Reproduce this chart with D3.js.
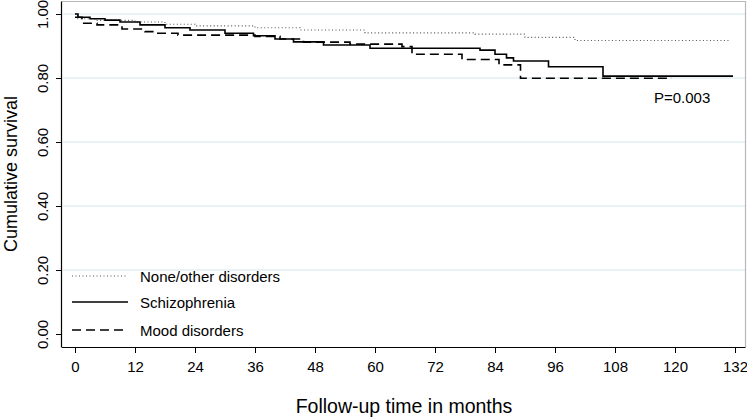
<!DOCTYPE html>
<html>
<head>
<meta charset="utf-8">
<script src="https://cdn.jsdelivr.net/npm/d3@7"></script>
<style>
  body { margin: 0; background: #fff; }
  svg { font-family: "Liberation Sans", Arial, sans-serif; }
</style>
</head>
<body>
<div class="chart"></div>
<script>
// step points [month, cumulative survival]
var noneOther = [[0,1.0],[0.5,0.985],[4,0.98],[12,0.975],[18,0.968],[24,0.963],[36,0.957],[45,0.95],[58,0.941],[80,0.937],[90,0.927],[100,0.917],[131,0.917]];
var schizophrenia = [[0,1.0],[0.6,0.99],[3,0.985],[6,0.981],[9,0.975],[13,0.966],[18,0.957],[23,0.95],[30,0.94],[35.7,0.932],[40,0.922],[43.7,0.913],[49.7,0.903],[59,0.893],[81,0.887],[84,0.874],[86.3,0.863],[87.7,0.853],[94.7,0.835],[105.6,0.806],[131.6,0.806]];
var mood = [[0,0.99],[1.4,0.971],[4.4,0.966],[9.4,0.953],[14,0.945],[16,0.94],[20.6,0.934],[36,0.93],[41,0.922],[45.7,0.912],[55,0.906],[65.4,0.898],[67.4,0.874],[77.4,0.858],[84.8,0.841],[89.1,0.799],[119.4,0.799]];

var xTicks = [0,12,24,36,48,60,72,84,96,108,120,132];
var yTicks = [0,0.2,0.4,0.6,0.8,1.0];
var gridTicks = [0.2,0.4,0.6,0.8,1.0];
var seriesNames = ["None/other disorders", "Schizophrenia", "Mood disorders"];

var svg = d3.select(".chart")
    .append("svg")
    .attr("width", 747)
    .attr("height", 419)

var x = d3.scaleLinear().domain([0, 132]).range([75, 735]);
var y = d3.scaleLinear().domain([0, 1]).range([334, 14]);

// grid
svg.selectAll(".grid")
    .data(gridTicks)
    .enter()
    .append("line")
    .attr("x1", 63).attr("x2", 745)
    .attr("y1", function (d) { return y(d); })
    .attr("y2", function (d) { return y(d); })
    .attr("stroke", "#e2eef0")
    .attr("stroke-width", 1.5)

// frame top/right
svg.append("path")
    .attr("d", "M62,1.5H745.5V347")
    .attr("fill", "none")
    .attr("stroke", "#b8b8b8")
    .attr("stroke-width", 1.2)

var xAxis = svg.append("g")
    .attr("transform", "translate(0,347)")
    .call(d3.axisBottom(x).tickValues(xTicks).tickSize(6).tickPadding(8).tickSizeOuter(0))
xAxis.select(".domain").attr("d", "M62,0.5H745.5").attr("stroke", "#000").attr("stroke-width", 1.2)
xAxis.selectAll("text").style("font-size", "15px").attr("fill", "#000")

var yAxis = svg.append("g")
    .attr("transform", "translate(62,0)")
    .call(d3.axisLeft(y).tickValues(yTicks).tickSize(6).tickFormat(d3.format(".2f")).tickSizeOuter(0))
yAxis.select(".domain").attr("d", "M-0.5,1.5V347.5").attr("stroke", "#000").attr("stroke-width", 1.2)
yAxis.selectAll("text")
    .style("font-size", "15px")
    .attr("fill", "#000")
    .attr("text-anchor", "middle")
    .attr("x", 0).attr("dy", 0)
    .attr("transform", "translate(-14,0) rotate(-90)")

var line = d3.line()
    .x(function (d) { return x(d[0]); })
    .y(function (d) { return y(d[1]); })
    .curve(d3.curveStepAfter);

var styles = [
    {stroke: "#555", width: 1.1, dash: "1,2.5"},
    {stroke: "#000", width: 1.6, dash: null},
    {stroke: "#000", width: 1.6, dash: "9,5"}
];

[noneOther, schizophrenia, mood].forEach(function (s, i) {
    svg.append("path")
        .attr("d", line(s))
        .attr("fill", "none")
        .attr("stroke", styles[i].stroke)
        .attr("stroke-width", styles[i].width)
        .attr("stroke-dasharray", styles[i].dash)
});

// legend
var legY = [276, 302, 330];
seriesNames.forEach(function (name, i) {
    svg.append("line")
        .attr("x1", 72).attr("x2", 128)
        .attr("y1", legY[i]).attr("y2", legY[i])
        .attr("stroke", styles[i].stroke)
        .attr("stroke-width", styles[i].width)
        .attr("stroke-dasharray", styles[i].dash)
    svg.append("text")
        .attr("x", 140)
        .attr("y", legY[i] + 6)
        .text(name)
        .style("font-size", "15px")
        .attr("fill", "#000")
});

svg.append('text')
    .attr('x', 654)
    .attr('y', 103)
    .text('P=0.003')
    .style('font-size', '15px')
    .attr("fill", "#000")

svg.append('text')
    .attr('x', 404)
    .attr('y', 413)
    .attr("text-anchor", "middle")
    .text('Follow-up time in months')
    .style('font-size', '19.5px')
    .attr("fill", "#000")

svg.append('text')
    .attr("transform", "translate(17,174) rotate(-90)")
    .attr("text-anchor", "middle")
    .text('Cumulative survival')
    .style('font-size', '18px')
    .attr("fill", "#000")
</script>
</body>
</html>
